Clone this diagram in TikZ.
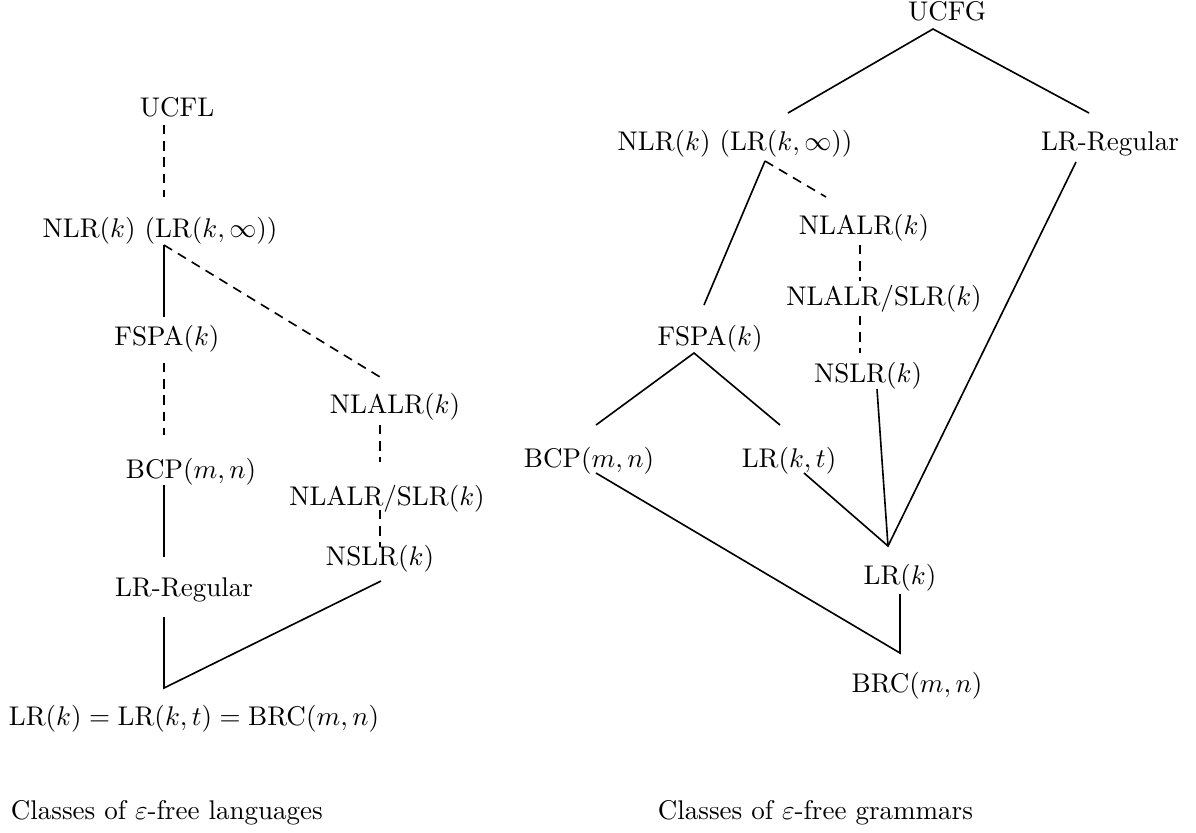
\documentclass[tikz,border=0pt]{standalone}
\usetikzlibrary{calc}
\tikzset{
  lbl/.style={anchor=base, inner sep=0pt},
  dsh/.style={dash pattern=on 3.5pt off 2.5pt},
}
\begin{document}
\begin{tikzpicture}[x=0.37pt, y=-0.37pt, line width=0.6pt]
			%%%%% START %%%%%
			\useasboundingbox (0,0) rectangle (1196,832);
			
			%%%%% languages %%%%%
			\node[lbl] (ucfl) at (177, 116) {UCFL};
			\node[lbl] (nlrL) at (160, 237) {$\mathrm{NLR}(k)$ $(\mathrm{LR}(k,\infty))$};
			\node[lbl] (fspaL) at (167, 345) {$\mathrm{FSPA}(k)$};
			\node[lbl] (bcpL) at (191, 478) {$\mathrm{BCP}(m,n)$};
			\node[lbl] (lrrL) at (184, 596) {LR-Regular};
			\node[lbl] (nlalrL) at (395, 413) {$\mathrm{NLALR}(k)$};
			\node[lbl] (nlslrL) at (387, 505) {$\mathrm{NLALR/SLR}(k)$};
			\node[lbl] (nslrL) at (380, 565) {$\mathrm{NSLR}(k)$};
			\node[lbl] (lrkL) at (194, 725) {$\mathrm{LR}(k) = \mathrm{LR}(k,t) = \mathrm{BRC}(m,n)$};
			\node[lbl, anchor=base west] (capL) at (10, 819) {Classes of $\varepsilon$-free languages};
			
			\coordinate (ucfl-s) at (164, 125);
			\coordinate (nlrL-n) at (164, 197);
			\coordinate (nlrL-s) at (164, 245);
			\coordinate (fspaL-n) at (164, 317);
			\coordinate (fspaL-s) at (164, 363);
			\coordinate (bcpL-n) at (164, 435);
			\coordinate (bcpL-s) at (164, 485);
			\coordinate (lrrL-n) at (164, 557);
			\coordinate (lrrL-s) at (164, 617);
			\coordinate (lrkL-n) at (164, 688);
			\coordinate (nlalrL-n) at (380, 377);
			\coordinate (nlalrL-s) at (380, 425);
			\coordinate (nlslrL-n) at (380, 462);
			\coordinate (nlslrL-s) at (380, 510);
			\coordinate (nslrL-n) at (380, 547);
			\coordinate (nslrL-s) at (381, 581);
			
			\draw[dsh] (ucfl-s) -- (nlrL-n);
			\draw (nlrL-s) -- (fspaL-n);
			\draw[dsh] (nlrL-s) -- (nlalrL-n);
			\draw[dsh] (fspaL-s) -- (bcpL-n);
			\draw (bcpL-s) -- (lrrL-n);
			\draw (lrrL-s) -- (lrkL-n) -- (nslrL-s);
			\draw[dsh] (nlalrL-s) -- (nlslrL-n);
			\draw[dsh] (nlslrL-s) -- (nslrL-n);
			
			%%%%% grammars %%%%%
			\node[lbl] (ucfg) at (947, 20) {UCFG};
			\node[lbl] (nlrR) at (735, 150) {$\mathrm{NLR}(k)$ $(\mathrm{LR}(k,\infty))$};
			\node[lbl] (lrrR) at (1110, 150) {LR-Regular};
			\node[lbl] (nlalrR) at (864, 234) {$\mathrm{NLALR}(k)$};
			\node[lbl] (nlslrR) at (884, 305) {$\mathrm{NLALR/SLR}(k)$};
			\node[lbl] (fspaR) at (710, 345) {$\mathrm{FSPA}(k)$};
			\node[lbl] (nslrR) at (868, 382) {$\mathrm{NSLR}(k)$};
			\node[lbl] (bcpR) at (589, 467) {$\mathrm{BCP}(m,n)$};
			\node[lbl] (lrktR) at (789, 467) {$\mathrm{LR}(k,t)$};
			\node[lbl] (lrkR) at (900, 584) {$\mathrm{LR}(k)$};
			\node[lbl] (brcR) at (917, 692) {$\mathrm{BRC}(m,n)$};
			\node[lbl, anchor=base west] (capR) at (657, 819) {Classes of $\varepsilon$-free grammars};
			
			\coordinate (ucfg-s) at (933, 29);
			\coordinate (nlrR-n) at (788, 113);
			\coordinate (lrrR-n) at (1089, 113);
			\coordinate (nlrR-s) at (765, 161);
			\coordinate (fspaR-n) at (704, 305);
			\coordinate (nlalrR-n) at (826, 197);
			\coordinate (lrrR-s) at (1076, 162);
			\coordinate (nlalrR-s) at (860, 245);
			\coordinate (nlslrR-n) at (860, 281);
			\coordinate (nlslrR-s) at (860, 316);
			\coordinate (nslrR-n) at (860, 353);
			\coordinate (fspaR-s) at (694, 353);
			\coordinate (bcpR-n) at (596, 425);
			\coordinate (lrktR-n) at (780, 425);
			\coordinate (bcpR-s) at (596, 473);
			\coordinate (lrktR-s) at (804, 473);
			\coordinate (nslrR-s) at (877, 389);
			\coordinate (lrkR-n) at (888, 546);
			\coordinate (lrkR-s) at (900, 594);
			\coordinate (brcR-n) at (900, 653);
			
			\draw (nlrR-n) -- (ucfg-s) -- (lrrR-n);
			\draw (fspaR-n) -- (nlrR-s);
			\draw[dsh] (nlrR-s) -- (nlalrR-n);
			\draw[dsh] (nlalrR-s) -- (nlslrR-n);
			\draw[dsh] (nlslrR-s) -- (nslrR-n);
			\draw (bcpR-n) -- (fspaR-s) -- (lrktR-n);
			\draw (lrktR-s) -- (lrkR-n) -- (lrrR-s);
			\draw (nslrR-s) -- (lrkR-n);
			\draw (bcpR-s) -- (brcR-n) -- (lrkR-s);
			
			%%%%% END %%%%%
\end{tikzpicture}
\end{document}
